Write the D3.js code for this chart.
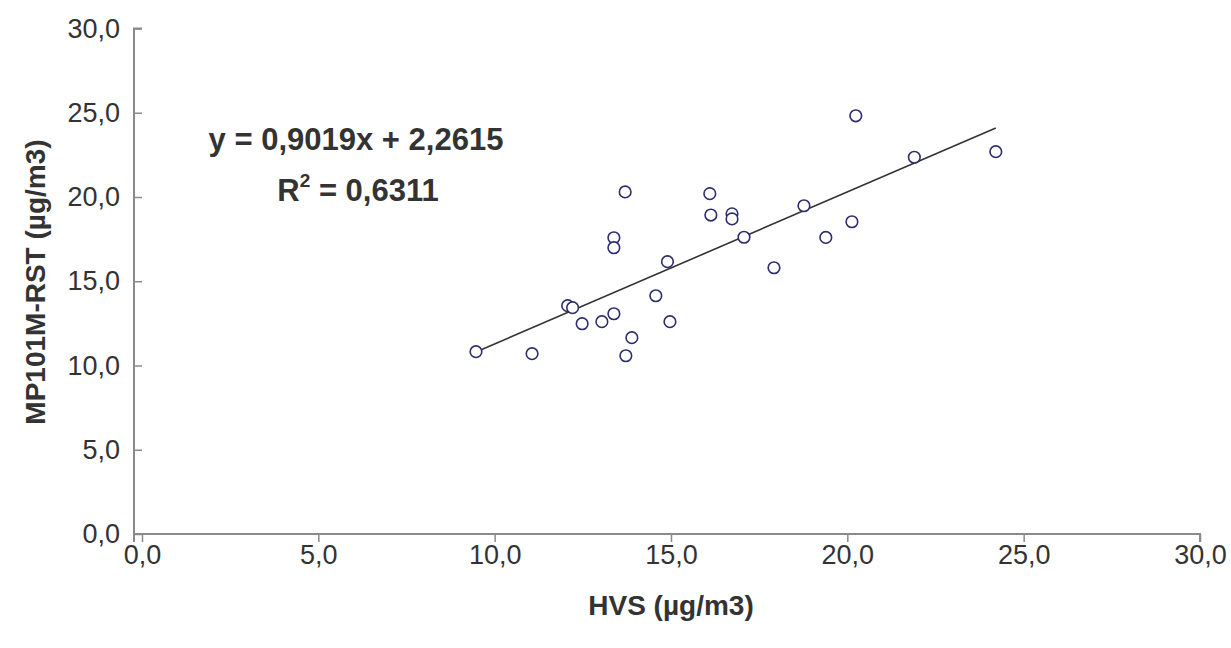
<!DOCTYPE html>
<html>
<head>
<meta charset="utf-8">
<script src="https://cdn.jsdelivr.net/npm/d3@7"></script>
<style>
  html, body { margin: 0; padding: 0; background: #fff; }
  svg { display: block; font-family: "Liberation Sans", Arial, sans-serif; }
</style>
</head>
<body>
<svg id="chart" width="1231" height="648"></svg>
<script>
// Paired measurements: HVS reference vs MP101M-RST (µg/m3)
const hvs = [9.47, 11.06, 12.07, 12.21, 12.48, 13.04, 13.38, 13.38, 13.38, 13.89, 13.72, 14.57, 14.90, 14.97,
             17.07, 17.92, 19.39, 20.24, 21.90, 24.21, 18.77, 20.13, 13.70, 16.10, 16.13, 16.73, 16.73];
const mp101 = [10.82, 10.70, 13.55, 13.43, 12.48, 12.60, 13.07, 17.58, 16.99, 11.65, 10.58, 14.14, 16.16, 12.60,
               17.61, 15.80, 17.60, 24.82, 22.36, 22.69, 19.48, 18.53, 20.30, 20.20, 18.93, 19.00, 18.70];

// Linear trend line
const slope = 0.9019;
const intercept = 2.2615;
const r2 = 0.6311;

const xTicks = [0, 5, 10, 15, 20, 25, 30];
const yTicks = [0, 5, 10, 15, 20, 25, 30];

const fmt = v => v.toFixed(1).replace(".", ",");
const fmt4 = v => v.toFixed(4).replace(".", ",");

const svg = d3.select("#chart");
const x = d3.scaleLinear().domain([0, 30]).range([142, 1200]);
const y = d3.scaleLinear().domain([0, 30]).range([534, 28.5]);

const axisColor = "#8a8a8a";
const textColor = "#333333";

// Y axis
const yAxis = svg.append("g").attr("transform", `translate(${x(0)},0)`)
  .call(d3.axisLeft(y).tickValues(yTicks).tickFormat(fmt).tickSize(8).tickPadding(14));
// X axis
const xAxis = svg.append("g").attr("transform", `translate(0,${y(0)})`)
  .call(d3.axisBottom(x).tickValues(xTicks).tickFormat(fmt).tickSize(8).tickPadding(3));

[xAxis, yAxis].forEach(g => {
  g.select(".domain").attr("stroke", axisColor).attr("stroke-width", 2);
  g.selectAll(".tick line").attr("stroke", axisColor).attr("stroke-width", 1.5);
  g.selectAll(".tick text").attr("fill", textColor).attr("font-size", 27)
    .attr("font-family", "Liberation Sans, Arial, sans-serif");
});
// axes cross slightly past the origin
yAxis.select(".domain").attr("d", `M0,${y(30)}H-8V${y(0) + 8}`);
xAxis.select(".domain").attr("d", `M${x(0) - 8},0H${x(30)}V8`);

// Trend line over the data range
const x0 = d3.min(hvs), x1 = d3.max(hvs);
svg.append("line")
  .attr("x1", x(x0)).attr("y1", y(slope * x0 + intercept))
  .attr("x2", x(x1)).attr("y2", y(slope * x1 + intercept))
  .attr("stroke", "#333").attr("stroke-width", 1.6);

// Data points
svg.append("g").selectAll("circle")
  .data(hvs.map((v, i) => [v, mp101[i]]))
  .join("circle")
  .attr("cx", d => x(d[0]))
  .attr("cy", d => y(d[1]))
  .attr("r", 5.8)
  .attr("fill", "#fff")
  .attr("stroke", "#2b2d6e")
  .attr("stroke-width", 1.6);

// Axis titles
svg.append("text")
  .attr("x", 671).attr("y", 615)
  .attr("text-anchor", "middle")
  .attr("font-size", 28).attr("font-weight", "bold").attr("fill", textColor)
  .text("HVS (µg/m3)");

svg.append("text")
  .attr("transform", `translate(45,282) rotate(-90)`)
  .attr("text-anchor", "middle")
  .attr("font-size", 28).attr("font-weight", "bold").attr("fill", textColor)
  .text("MP101M-RST (µg/m3)");

// Regression equation
svg.append("text")
  .attr("x", 356).attr("y", 150)
  .attr("text-anchor", "middle")
  .attr("font-size", 31).attr("font-weight", "bold").attr("fill", textColor)
  .text(`y = ${fmt4(slope)}x + ${fmt4(intercept)}`);

const r2Text = svg.append("text")
  .attr("x", 358).attr("y", 201)
  .attr("text-anchor", "middle")
  .attr("font-size", 31).attr("font-weight", "bold").attr("fill", textColor);
r2Text.append("tspan").text("R");
r2Text.append("tspan").attr("font-size", 19).attr("dy", -14).text("2");
r2Text.append("tspan").attr("dy", 14).text(` = ${fmt4(r2)}`);
</script>
</body>
</html>
